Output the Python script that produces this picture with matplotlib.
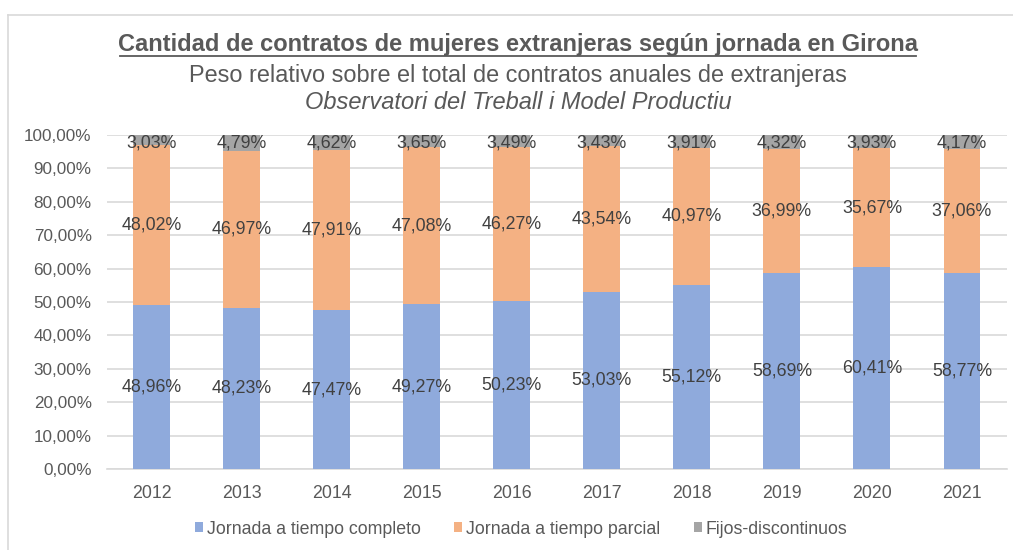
import matplotlib
matplotlib.use("Agg")
import matplotlib.pyplot as plt
import numpy as np
from matplotlib.lines import Line2D
from matplotlib.patches import Patch

years = ["2012", "2013", "2014", "2015", "2016", "2017", "2018", "2019", "2020", "2021"]
completo = [48.96, 48.23, 47.47, 49.27, 50.23, 53.03, 55.12, 58.69, 60.41, 58.77]
parcial = [48.02, 46.97, 47.91, 47.08, 46.27, 43.54, 40.97, 36.99, 35.67, 37.06]
fijos = [3.03, 4.79, 4.62, 3.65, 3.49, 3.43, 3.91, 4.32, 3.93, 4.17]
series_names = ["Jornada a tiempo completo", "Jornada a tiempo parcial", "Fijos-discontinuos"]
colors = ["#8FAADC", "#F4B183", "#A5A5A5"]

plt.rcParams['font.family'] = ['Liberation Sans', 'DejaVu Sans']
txt = "#595959"

W, H = 1013, 550
fig = plt.figure(figsize=(W / 100, H / 100), dpi=100)
ax = fig.add_axes([106.5 / W, 1 - 469 / H, (1007 - 106.5) / W, (469 - 135) / H])

x = np.arange(len(years))
bottom = np.zeros(len(years))
for vals, col in zip([completo, parcial, fijos], colors):
    v = np.array(vals)
    ax.bar(x, v, 0.41, bottom=bottom, color=col, zorder=3)
    for xi, b, vi in zip(x, bottom, v):
        yl = min(b + vi / 2, 97.5)
        ax.text(xi, yl, f"{vi:.2f}%".replace(".", ","), ha="center", va="center",
                fontsize=12.8, color="#404040", zorder=4)
    bottom = bottom + v

ax.set_xlim(-0.5, len(years) - 0.5)
ax.set_ylim(0, 100)
ax.set_yticks(np.arange(0, 101, 10))
ax.set_yticklabels([f"{t:.2f}%".replace(".", ",") for t in np.arange(0, 101, 10)])
ax.set_xticks(x)
ax.set_xticklabels(years)
ax.yaxis.grid(True, color="#D9D9D9", linewidth=1.2, zorder=0)
for s in ["top", "right", "left"]:
    ax.spines[s].set_visible(False)
ax.spines["bottom"].set_color("#D9D9D9")
ax.spines["bottom"].set_linewidth(1.2)
ax.tick_params(axis="both", length=0, colors=txt)
ax.tick_params(axis="y", pad=10.7, labelsize=12.3)
ax.tick_params(axis="x", pad=11.5, labelsize=12.8)

fig.text(518 / W, 1 - 51 / H, "Cantidad de contratos de mujeres extranjeras según jornada en Girona",
         ha="center", va="baseline", fontsize=17, fontweight="bold", color=txt)
fig.add_artist(Line2D([120 / W, 916 / W], [1 - 55.5 / H, 1 - 55.5 / H], color=txt, linewidth=1.3))
fig.text(518 / W, 1 - 82 / H, "Peso relativo sobre el total de contratos anuales de extranjeras",
         ha="center", va="baseline", fontsize=16.9, color=txt)
fig.text(518 / W, 1 - 109 / H, "Observatori del Treball i Model Productiu",
         ha="center", va="baseline", fontsize=17, style="italic", color=txt)

# chart frame
fig.add_artist(Line2D([7.5 / W, 7.5 / W], [0, 1 - 15 / H], color="#D9D9D9", linewidth=1.2))
fig.add_artist(Line2D([7.5 / W, 1], [1 - 15 / H, 1 - 15 / H], color="#D9D9D9", linewidth=1.2))

handles = [Patch(facecolor=c, edgecolor="none") for c in colors]
fig.legend(handles, series_names, loc="center", bbox_to_anchor=(521 / W, 1 - 529 / H), ncol=3,
           frameon=False, fontsize=12.8, handlelength=0.45, handleheight=0.45, handletextpad=0.2,
           columnspacing=1.9, labelcolor=txt)

fig.savefig("out.png", dpi=100, facecolor="white")
